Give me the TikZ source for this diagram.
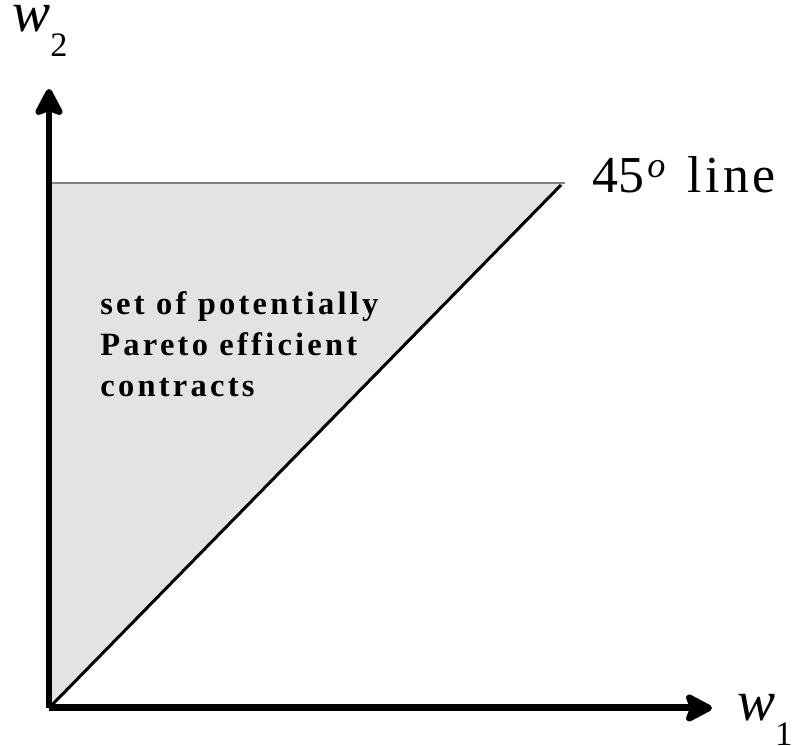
\documentclass[tikz,border=0pt]{standalone}
\usepackage{fontspec}
\setmainfont{Liberation Serif}
\newfontfamily\spacedbold[LetterSpace=10]{Liberation Serif}
\newfontfamily\spacedroman[LetterSpace=7]{Liberation Serif}
\usepackage{xcolor}
\usetikzlibrary{arrows.meta}
\definecolor{regiongray}{HTML}{E3E3E3}
\definecolor{edgegray}{HTML}{808080}
\tikzset{
  axisarrow/.style={-{Stealth[length=6.4mm, width=6.6mm, inset=1.2mm, round]}, line width=1.4mm, draw=black},
  diagline/.style={line width=0.6mm, draw=black},
  capline/.style={line width=0.3mm, draw=edgegray},
  axislabel/.style={font=\fontsize{32.5}{34}\selectfont\itshape, inner sep=0pt},
  linelabel/.style={font=\fontsize{29.5}{31}\selectfont, inner sep=0pt},
  regionnote/.style={font=\fontsize{18.5}{23.5}\selectfont\spacedbold\bfseries, align=left, inner sep=0pt}
}
\newcommand{\wsub}[1]{w\raisebox{-0.43em}{\fontsize{19.5}{20}\selectfont\upshape #1}}
\begin{document}
\begin{tikzpicture}[x=0.02cm, y=-0.02cm]
    \useasboundingbox (0,0) rectangle (796,746);
    \coordinate (o) at (49,708);
    \coordinate (ytop) at (49,89);
    \coordinate (xend) at (712,708);
    \coordinate (capl) at (49,183);
    \coordinate (capr) at (565,183);
    \coordinate (diagend) at (561,185);

    \fill[regiongray] (o) -- (capl) -- (capr) -- cycle;
    \draw[capline] (capl) -- (capr);
    \draw[diagline] (o) -- (diagend);

    % base anchor sits on the last line
    \node[regionnote, anchor=base west] (set) at (100,397) {set of potentially\\Pareto efficient\\contracts};
    \node[linelabel, anchor=base west] (fortyfive) at (592,193) {45\kern0.06em\textsuperscript{\itshape o}\hspace{0.4em}{\spacedroman line}};
    \node[axislabel, anchor=base west] (wtwo) at (12,32) {\wsub{2}};
    \node[axislabel, anchor=base west] (wone) at (737,721) {\wsub{1}};

    \draw[axisarrow] (o) -- (ytop);
    \draw[axisarrow] (o) -- (xend);
\end{tikzpicture}
\end{document}
